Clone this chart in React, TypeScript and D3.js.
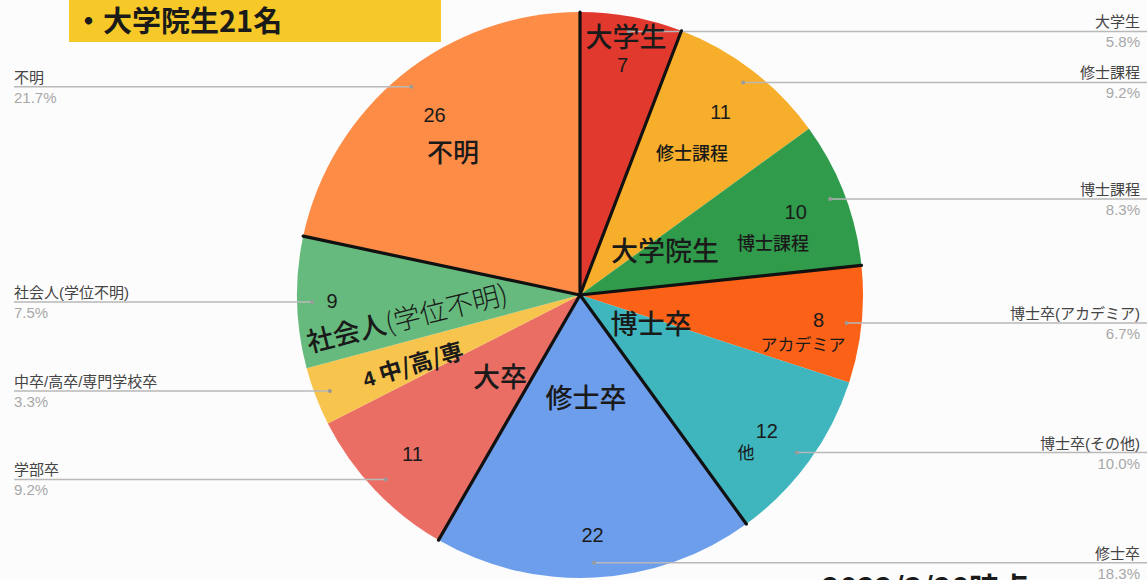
import React from "react";
import * as d3 from "d3";

const categories = [
  "大学生",
  "修士課程",
  "博士課程",
  "博士卒(アカデミア)",
  "博士卒(その他)",
  "修士卒",
  "学部卒",
  "中卒/高卒/専門学校卒",
  "社会人(学位不明)",
  "不明",
];
const values = [7, 11, 10, 8, 12, 22, 11, 4, 9, 26];
const colors = [
  "#e2392f",
  "#f7ae2a",
  "#2f9b4b",
  "#fc6118",
  "#3fb6bd",
  "#6d9eec",
  "#ea6e64",
  "#f7c44e",
  "#66ba7d",
  "#fd8c47",
];
// groups separated by the thick black lines (each entry = last category of a group)
const groupEnds = ["大学生", "博士課程", "博士卒(その他)", "修士卒", "社会人(学位不明)", "不明"];

const titleText = "・大学院生21名";
const dateText = "2022/3/28時点";

// hand-placed overlay annotations drawn on top of the pie
const annotations = [
  { text: "大学生", x: 626, y: 47, size: 27, weight: 500 },
  { text: "修士課程", x: 692, y: 160, size: 18, weight: 500 },
  { text: "博士課程", x: 773, y: 250, size: 18, weight: 500 },
  { text: "大学院生", x: 665, y: 261, size: 27, weight: 500 },
  { text: "博士卒", x: 651, y: 334, size: 27, weight: 500 },
  { text: "アカデミア", x: 803, y: 351, size: 17, weight: 400 },
  { text: "他", x: 746, y: 459, size: 17, weight: 400 },
  { text: "修士卒", x: 586, y: 408, size: 27, weight: 500 },
  { text: "大卒", x: 500, y: 387, size: 27, weight: 500 },
  { text: "不明", x: 453, y: 162, size: 26, weight: 500 },
];

const W = 1147;
const H = 580;
const cx = 580;
const cy = 295;
const R = 283;
const FONT = "'Liberation Sans', 'Noto Sans CJK JP', sans-serif";
const CJK = "'Noto Sans CJK JP', sans-serif";

export default function App() {
  const total = d3.sum(values);
  const pie = d3
    .pie<number>()
    .sort(null)
    .value((d) => d)
    .startAngle(0)
    .endAngle(2 * Math.PI);
  const arcs = pie(values);
  const arc = d3.arc<d3.PieArcDatum<number>>().innerRadius(0).outerRadius(R);
  const polar = (a: number, r: number): [number, number] => [
    cx + r * Math.sin(a),
    cy - r * Math.cos(a),
  ];
  const labelRadius = [234, 231, 231, 240, 231, 240, 231, 240, 248, 231];

  const sepAngles = [0];
  arcs.forEach((a, i) => {
    if (groupEnds.includes(categories[i]) && a.endAngle < 2 * Math.PI - 1e-6) sepAngles.push(a.endAngle);
  });

  return (
    <svg
      width={W}
      height={H}
      style={{ position: "absolute", left: 0, top: 0, background: "#fcfcfc" }}
    >
      <rect x={0} y={0} width={W} height={H} fill="#fcfcfc" />
      <g transform={`translate(${cx},${cy})`}>
        {arcs.map((a, i) => (
          <path key={i} d={arc(a) || ""} fill={colors[i]} />
        ))}
      </g>
      {/* leader lines and side labels */}
      {arcs.map((a, i) => {
        const mid = (a.startAngle + a.endAngle) / 2;
        const [dx, dy] = polar(mid, 268);
        const right = mid < Math.PI;
        const pct = ((values[i] / total) * 100).toFixed(1) + "%";
        const lx = right ? 1140 : 14;
        return (
          <g key={"l" + i}>
            <line
              x1={dx}
              y1={dy}
              x2={right ? W : 14}
              y2={dy}
              stroke="#b9b9b9"
              strokeWidth={1.5}
            />
            <circle cx={dx} cy={dy} r={2} fill="#9a9a9a" />
            <text
              x={lx}
              y={dy - 4}
              textAnchor={right ? "end" : "start"}
              fontFamily={FONT}
              fontSize={15}
              fill="#444"
            >
              {categories[i]}
            </text>
            <text
              x={lx}
              y={dy + 16}
              textAnchor={right ? "end" : "start"}
              fontFamily={FONT}
              fontSize={15}
              fill="#a8a8a8"
            >
              {pct}
            </text>
          </g>
        );
      })}
      {/* value labels */}
      {arcs.map((a, i) => {
        const mid = (a.startAngle + a.endAngle) / 2;
        const [x, y] = polar(mid, labelRadius[i]);
        if (i === 7) return null;
        return (
          <text
            key={"v" + i}
            x={x}
            y={y + 7}
            textAnchor="middle"
            fontFamily={FONT}
            fontSize={20}
            fill="#1a1a1a"
          >
            {values[i]}
          </text>
        );
      })}
      {/* group separators */}
      {sepAngles.map((ang, i) => {
        const [x, y] = polar(ang, R);
        return (
          <line
            key={"s" + i}
            x1={cx}
            y1={cy}
            x2={x}
            y2={y}
            stroke="#111"
            strokeWidth={3.2}
            strokeLinecap="round"
          />
        );
      })}
      {/* annotations */}
      {annotations.map((t, i) => (
        <text
          key={"a" + i}
          x={t.x}
          y={t.y}
          textAnchor="middle"
          fontFamily={CJK}
          fontSize={t.size}
          fontWeight={t.weight}
          fill="#1a1a1a"
        >
          {t.text}
        </text>
      ))}
      {/* rotated: 4 中/高/専 */}
      <text
        x={413}
        y={373}
        transform="rotate(-16.5 413 365)"
        textAnchor="middle"
        fontFamily={CJK}
        fontSize={23}
        fontWeight={700}
        fill="#1a1a1a"
      >
        <tspan fontFamily={FONT} fontSize={21} fontWeight={700}>
          {values[7]}
        </tspan>
        <tspan> 中/高/専</tspan>
      </text>
      {/* rotated: 社会人(学位不明) */}
      <text
        x={407}
        y={328}
        transform="rotate(-14 407 318)"
        textAnchor="middle"
        fontFamily={CJK}
        fontSize={27}
        fill="#1a1a1a"
      >
        <tspan fontWeight={500}>社会人</tspan>
        <tspan fontWeight={300}>(学位不明)</tspan>
      </text>
      {/* title box */}
      <rect x={69} y={0} width={372} height={42} fill="#f6c928" />
      <text x={74} y={32} fontFamily={CJK} fontSize={29} fontWeight={700} fill="#1a1a1a">
        {titleText}
      </text>
      <text x={822} y={599} fontFamily={CJK} fontSize={30} fontWeight={700} fill="#1a1a1a">
        {dateText}
      </text>
    </svg>
  );
}
